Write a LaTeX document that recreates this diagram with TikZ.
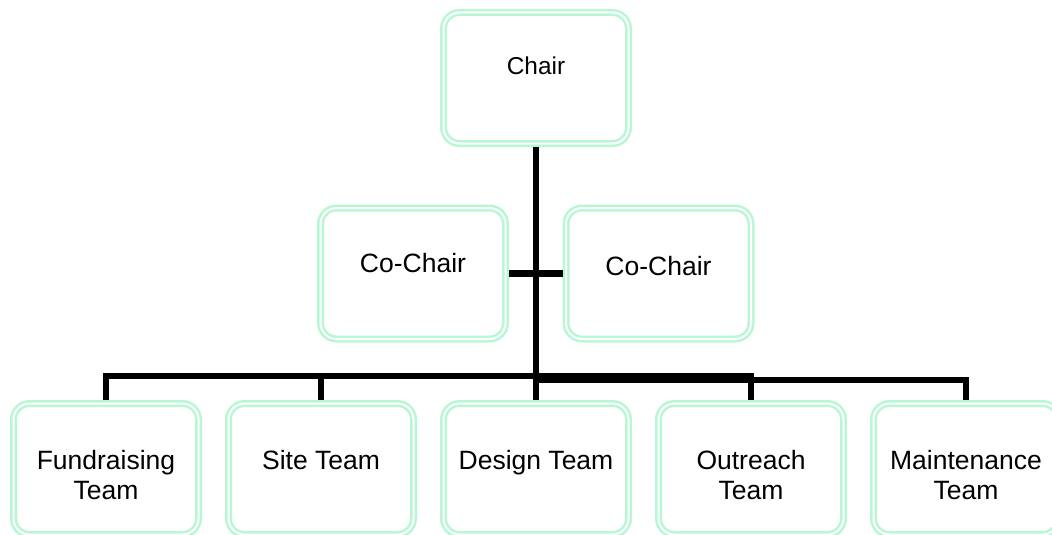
\documentclass[tikz,border=0pt]{standalone}
\usepackage{fontspec}
\setmainfont{Liberation Sans}
\definecolor{mint}{RGB}{184,247,212}
\begin{document}
\begin{tikzpicture}[x=1pt,y=-1pt,
  box/.style={draw=mint, double=white, double distance=2pt, line width=2.5pt,
    rounded corners=16pt, fill=white, minimum width=185pt, minimum height=131pt,
    inner sep=0pt, outer sep=3.5pt},
  lbl/.style={anchor=north, align=center, inner sep=0pt,
    font=\fontsize{26.5}{30}\selectfont},
  conn/.style={line width=6.5pt, draw=black}]
\useasboundingbox (0,0) rectangle (1052,535);
% boxes
\node[box] (chair) at (536,78) {};
\node[box] (cochairL) at (413,273.5) {};
\node[box] (cochairR) at (658.5,273.5) {};
\node[box] (fund) at (106,469) {};
\node[box] (site) at (321,469) {};
\node[box] (design) at (536,469) {};
\node[box] (out) at (751,469) {};
\node[box] (maint) at (966,469) {};
% labels
\node[lbl, font=\fontsize{24.4}{28}\selectfont] (chairL) at ([yshift=-47.7pt]chair.north) {Chair};
\node[lbl] (cochairLL) at ([yshift=-48.3pt]cochairL.north) {Co-Chair};
\node[lbl] (cochairRL) at ([yshift=-51.7pt]cochairR.north) {Co-Chair};
\node[lbl] (fundL) at ([yshift=-50pt]fund.north) {Fundraising\\Team};
\node[lbl] (siteL) at ([yshift=-50pt]site.north) {Site Team};
\node[lbl] (designL) at ([yshift=-50pt]design.north) {Design Team};
\node[lbl] (outL) at ([yshift=-50pt]out.north) {Outreach\\Team};
\node[lbl] (maintL) at ([yshift=-50pt]maint.north) {Maintenance\\Team};
% connectors
\coordinate (busA) at (536,376);
\coordinate (busB) at (536,380);
\draw[conn] (chair.south) -- (design.north);
\draw[conn] (cochairL.east) -- (cochairR.west);
\draw[conn] (fund.north) |- (busA) -| (out.north);
\draw[conn] (site.north) -- (site.north |- busA);
\draw[conn] (busB) -| (maint.north);
\end{tikzpicture}
\end{document}
